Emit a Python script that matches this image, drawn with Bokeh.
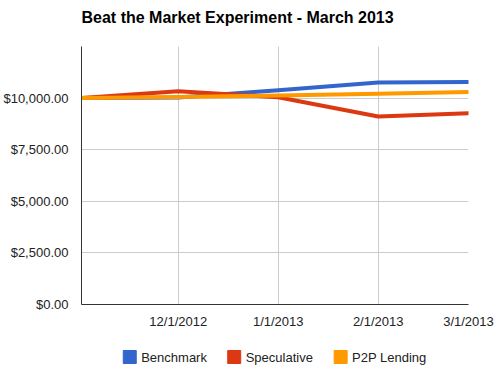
import numpy as np
from bokeh.plotting import figure
from bokeh.layouts import column
from bokeh.models import Range1d, FixedTicker, NumeralTickFormatter
from bokeh.core.properties import value
from bokeh.embed import file_html
from bokeh.resources import INLINE

# ---- data ----
dates = ["2012-11-01", "2012-12-01", "2013-01-01", "2013-02-01", "2013-03-01"]
benchmark = [10000, 10030, 10380, 10760, 10780]
speculative = [10000, 10330, 10040, 9110, 9270]
p2p_lending = [10000, 10050, 10130, 10210, 10290]
series_names = ["Benchmark", "Speculative", "P2P Lending"]
series_colors = ["#3366cc", "#dc3912", "#ff9900"]
tick_dates = ["2012-12-01", "2013-01-01", "2013-02-01", "2013-03-01"]
tick_labels = ["12/1/2012", "1/1/2013", "2/1/2013", "3/1/2013"]
y_ticks = [0, 2500, 5000, 7500, 10000]
y_max = 12500
chart_title = "Beat the Market Experiment - March 2013"

# legend layout (page pixel positions of the swatch centres)
legend_swatch_x = [127.5, 232.5, 339.5]

x_ms = np.array(dates, dtype="datetime64[ms]").astype("int64").tolist()
tick_ms = np.array(tick_dates, dtype="datetime64[ms]").astype("int64").tolist()

FONT = "Liberation Sans"
FRAME_L, FRAME_R = 79, 468
W = 496

# ---- title strip ----
tfig = figure(width=W, height=46, output_backend="svg", toolbar_location=None, title=None,
              x_range=Range1d(FRAME_L, FRAME_R), y_range=Range1d(46, 0),
              min_border_left=FRAME_L, min_border_right=W - FRAME_R,
              min_border_top=0, min_border_bottom=0,
              x_axis_location=None, y_axis_location=None)
tfig.grid.visible = False
tfig.outline_line_color = None
tfig.text([FRAME_L], [17], text=[chart_title],
          text_font=value(FONT), text_font_size="16px", text_font_style="bold",
          text_color="#000000", text_baseline="middle", text_align="left")

# ---- main chart ----
p = figure(width=W, height=292, output_backend="svg", toolbar_location=None, title=None,
           x_range=Range1d(x_ms[0], x_ms[-1]), y_range=Range1d(0, y_max),
           min_border_left=FRAME_L, min_border_right=W - FRAME_R,
           min_border_top=0, min_border_bottom=34)
p.outline_line_color = None
p.background_fill_color = "white"
p.border_fill_color = "white"

p.xaxis.ticker = FixedTicker(ticks=tick_ms)
p.xaxis.major_label_overrides = {t: l for t, l in zip(tick_ms, tick_labels)}
p.yaxis.ticker = FixedTicker(ticks=y_ticks)
p.yaxis.formatter = NumeralTickFormatter(format="$0,0.00")
for ax in (p.xaxis, p.yaxis):
    ax.axis_line_color = "#333333"
    ax.axis_line_width = 1
    ax.major_tick_line_color = None
    ax.minor_tick_line_color = None
    ax.major_tick_out = 0
    ax.major_tick_in = 0
    ax.minor_tick_out = 0
    ax.major_label_text_font = FONT
    ax.major_label_text_font_size = "13px"
    ax.major_label_text_color = "#222222"
p.yaxis.major_label_standoff = 13
p.xaxis.major_label_standoff = 9

p.xgrid.ticker = FixedTicker(ticks=tick_ms)
p.ygrid.ticker = FixedTicker(ticks=y_ticks)
p.grid.grid_line_color = "#cccccc"
p.grid.grid_line_width = 1

for vals, c in zip([benchmark, speculative, p2p_lending], series_colors):
    p.line(x_ms, vals, line_color=c, line_width=4, line_join="round", line_cap="round")

# ---- legend strip ----
leg = figure(width=W, height=33, output_backend="svg", toolbar_location=None, title=None,
             x_range=Range1d(FRAME_L, FRAME_R), y_range=Range1d(33, 0),
             min_border_left=FRAME_L, min_border_right=W - FRAME_R,
             min_border_top=0, min_border_bottom=0,
             x_axis_location=None, y_axis_location=None)
leg.grid.visible = False
leg.outline_line_color = None
sy = [18.5] * len(series_names)
leg.scatter(legend_swatch_x, sy, marker="square", size=13,
            fill_color=series_colors, line_color=series_colors)
leg.text([x + 11.5 for x in legend_swatch_x], sy, text=series_names,
         text_font=value(FONT), text_font_size="13px", text_color="#222222",
         text_baseline="middle", text_align="left")

layout = column(tfig, p, leg, spacing=0)

open("out.html", "w").write(file_html(layout, INLINE))
